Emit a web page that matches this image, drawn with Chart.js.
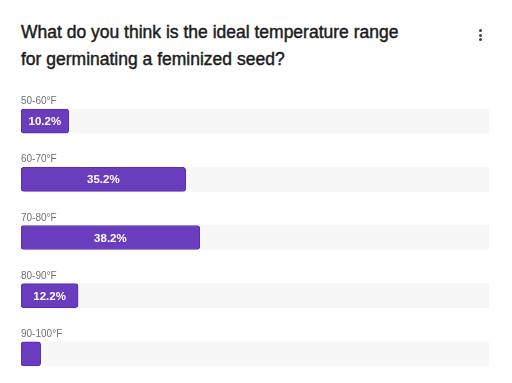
<!DOCTYPE html>
<html>
<head>
<meta charset="utf-8">
<script src="https://cdn.jsdelivr.net/npm/chart.js@4"></script>
<style>
	html, body { margin: 0; padding: 0; background: #fff; }
	body { width: 512px; height: 383px; position: relative; overflow: hidden; font-family: "Liberation Sans", Arial, sans-serif; }
	#title { position: absolute; left: 21px; top: 19px; width: 460px; font-size: 17.5px; font-weight: 400; -webkit-text-stroke: 0.45px #1c1c1c; line-height: 27px; color: #1c1c1c; white-space: nowrap; }
	#menu { position: absolute; left: 478px; top: 29px; width: 6px; }
	#menu span { display: block; width: 3px; height: 3px; border-radius: 50%; background: #444; margin: 0 0 1.5px 1px; }
	#wrap { position: absolute; left: 21px; top: 92px; width: 468px; height: 291px; }
</style>
</head>
<body>
<div id="title">What do you think is the ideal temperature range<br>for germinating a feminized seed?</div>
<div id="menu"><span></span><span></span><span></span></div>
<div id="wrap"><canvas id="pollChart"></canvas></div>
<script>
// poll options and their share of votes (%)
const categories = ["50-60°F", "60-70°F", "70-80°F", "80-90°F", "90-100°F"];
const percents = [10.2, 35.2, 38.2, 12.2, 4.2];
const trackValues = [100, 100, 100, 100, 100];

// draws option names above each bar and the percentage inside it
const pollLabels = {
	id: "pollLabels",
	afterDatasetsDraw(chart) {
		const ctx = chart.ctx;
		const yScale = chart.scales.y;
		const meta = chart.getDatasetMeta(1);
		ctx.save();
		categories.forEach((cat, i) => {
			const yc = yScale.getPixelForValue(i);
			ctx.font = "10px 'Liberation Sans', Arial, sans-serif";
			ctx.fillStyle = "#707070";
			ctx.textAlign = "left";
			ctx.textBaseline = "alphabetic";
			ctx.fillText(cat, chart.chartArea.left, yc - 17);

			const bar = meta.data[i];
			const w = bar.x - bar.base;
			if (w > 30) {
				ctx.font = "bold 11.5px 'Liberation Sans', Arial, sans-serif";
				ctx.fillStyle = "#ffffff";
				ctx.textAlign = "center";
				ctx.textBaseline = "middle";
				ctx.fillText(percents[i].toFixed(1) + "%", bar.base + w / 2, yc + 1);
			}
		});
		ctx.restore();
	},
};

document.addEventListener("DOMContentLoaded", function () {
	const ctx = document.getElementById("pollChart").getContext("2d");
	new Chart(ctx, {
		type: "bar",
		data: {
			labels: categories,
			datasets: [
				{
					data: trackValues,
					backgroundColor: "#f7f7f7",
					barThickness: 24,
					grouped: false,
					order: 2,
				},
				{
					data: percents,
					backgroundColor: "#6a3dbf",
					borderColor: "#5a2fae",
					borderWidth: 1,
					borderRadius: 3,
					borderSkipped: false,
					barThickness: 24,
					grouped: false,
					order: 1,
				},
			],
		},
		options: {
			indexAxis: "y",
			responsive: true,
			maintainAspectRatio: false,
			animation: false,
			layout: { padding: 0 },
			plugins: {
				legend: { display: false },
				tooltip: { enabled: false },
			},
			scales: {
				x: { display: false, min: 0, max: 100 },
				y: { display: false, offset: true },
			},
		},
		plugins: [pollLabels],
	});
});
</script>
</body>
</html>
